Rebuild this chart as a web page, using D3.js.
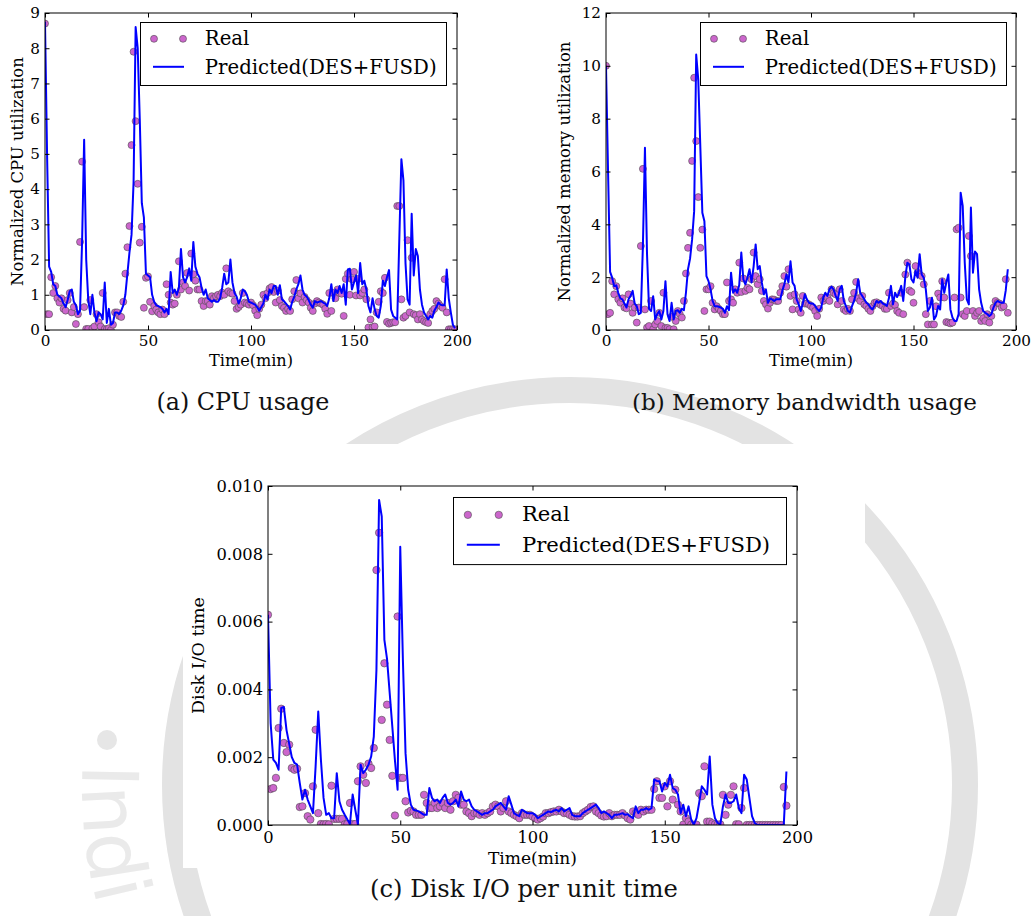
<!DOCTYPE html>
<html>
<head>
<meta charset="utf-8">
<script src="https://cdn.jsdelivr.net/npm/d3@7"></script>
<style>
  body { margin: 0; background: #fff; }
  svg { display: block; }
</style>
</head>
<body>
<svg id="fig" width="1034" height="916"></svg>
<script>
// values, one per minute (index = minute)
const cpuReal = [
  8.7, 0.45, 0.45, 1.5, 1.05, 1.25, 0.9, 0.78, 0.9, 0.6,
  0.55, 0.85, 1.05, 0.5, 0.65, 0.17, 0.45, 2.5, 4.78, 0.65,
  0.03, 0.03, 0.85, 0.05, 0.1, 0.45, 0.22, 0.1, 1.05, 0.03,
  0.02, 0.05, 0.0, 0.15, 0.5, 0.5, 0.4, 0.37, 0.8, 1.6,
  2.35, 2.95, 5.25, 7.9, 5.93, 4.15, 2.48, 2.93, 0.63, 1.48,
  1.52, 0.8, 0.53, 0.68, 0.58, 0.5, 0.45, 0.58, 0.45, 1.3,
  1.0, 0.78, 0.72, 0.75, 1.0, 1.95, 1.15, 1.35, 1.25, 1.62,
  1.12, 2.17, 1.58, 1.4, 1.15, 1.15, 0.82, 0.68, 0.82, 0.82,
  0.72, 0.96, 0.9, 0.96, 1.0, 0.96, 1.06, 1.0, 1.75, 1.1,
  1.05, 1.03, 0.82, 0.6, 0.65, 0.72, 1.05, 0.78, 0.75, 0.72,
  0.78, 0.7, 0.55, 0.42, 0.6, 0.72, 1.0, 0.9, 1.05, 1.18,
  1.22, 1.08, 0.78, 1.12, 0.85, 0.68, 0.63, 0.54, 0.6, 0.54,
  0.87, 1.1, 1.42, 0.9, 1.04, 0.78, 0.94, 0.85, 0.78, 0.63,
  0.54, 0.75, 0.82, 0.78, 0.75, 0.72, 0.6, 0.46, 1.05, 0.54,
  1.05, 0.9, 1.15, 1.05, 1.03, 0.4, 1.45, 1.6, 1.0, 1.44,
  1.65, 0.98, 1.45, 0.98, 1.05, 1.15, 0.87, 0.07, 0.3, 0.08,
  0.1, 0.5, 0.8, 1.1, 1.05, 1.48, 0.23, 0.18, 0.2, 0.22,
  0.22, 3.52, 3.52, 0.87, 0.35, 0.4, 2.55, 0.5, 2.05, 0.45,
  0.42, 0.3, 0.45, 0.3, 0.25, 0.22, 0.2, 0.45, 0.54, 0.6,
  0.82, 0.75, 0.68, 0.63, 1.44, 0.5, 0.02, 0.02, 0.02, 0.02
];
const cpuPred = [
  8.75, 5.0, 1.8, 1.65, 1.3, 1.25, 1.0, 0.95, 0.9, 0.75,
  0.65, 0.85, 1.1, 1.15, 0.8, 0.7, 0.45, 0.55, 2.5, 5.4,
  2.0, 0.85, 0.45, 1.0, 0.5, 0.25, 0.5, 0.45, 0.3, 1.35,
  0.2, 0.6, 0.15, 0.2, 0.5, 0.5, 0.45, 0.55, 0.7, 1.0,
  1.6, 2.2, 2.7, 4.2, 8.6, 8.0, 6.0, 3.6, 3.2, 1.6,
  1.55, 1.5, 1.0, 0.8, 0.7, 0.68, 0.65, 0.6, 0.5, 0.6,
  0.45, 1.65, 1.05, 1.15, 1.0, 1.2, 2.3, 1.5, 1.35, 1.5,
  1.75, 1.4, 2.5, 1.8, 1.6, 1.5, 1.2, 1.0, 1.15, 0.9,
  0.85, 0.8, 0.85, 0.8, 0.8, 0.9, 1.2, 1.6, 1.3, 1.35,
  2.0, 1.35, 1.05, 0.95, 0.75, 0.9, 1.15, 1.1, 1.0, 0.8,
  0.78, 0.75, 0.72, 0.65, 0.55, 0.65, 0.75, 1.0, 0.87, 1.15,
  1.05, 1.25, 1.25, 1.0, 1.27, 0.87, 0.82, 0.75, 0.68, 0.58,
  0.8, 0.95, 1.15, 1.3, 1.55, 1.15, 1.0, 0.95, 0.85, 0.72,
  0.63, 0.82, 0.78, 0.8, 0.82, 0.78, 0.75, 0.68, 0.9, 1.3,
  0.82, 1.15, 1.05, 1.25, 1.05, 1.3, 0.72, 1.72, 1.74, 1.15,
  1.35, 1.55, 1.05, 1.9, 1.3, 1.4, 1.15, 0.68, 0.5, 0.9,
  0.6, 0.4, 0.35, 0.68, 1.4, 1.25, 1.5, 1.7, 0.58, 0.4,
  0.35, 0.3, 2.6, 4.85, 4.25, 1.9, 0.87, 0.72, 3.3, 1.55,
  2.3, 2.1, 1.15, 0.72, 0.5, 0.4, 0.3, 0.4, 0.35, 0.55,
  0.65, 0.78, 0.72, 0.7, 0.7, 1.72, 0.9, 0.5, 0.15, 0.05
];
const memReal = [
  10.0, 0.6, 0.65, 1.85, 1.35, 1.66, 1.16, 1.03, 1.2, 0.85,
  0.82, 1.35, 1.0, 0.65, 0.85, 0.28, 0.85, 3.18, 6.1, 0.78,
  0.09, 0.15, 1.1, 0.03, 0.21, 0.34, 0.65, 0.15, 1.41, 0.08,
  0.08, 0.03, 0.5, 0.03, 0.34, 0.72, 0.6, 0.47, 1.1, 2.14,
  3.11, 3.68, 6.4, 9.55, 7.15, 5.03, 3.11, 3.8, 0.72, 1.54,
  1.54, 1.66, 1.03, 0.78, 0.9, 0.8, 0.72, 0.6, 0.6, 1.8,
  1.1, 1.16, 1.03, 1.54, 1.41, 2.55, 1.44, 1.95, 1.48, 1.6,
  1.54, 1.92, 2.93, 2.04, 1.73, 1.92, 1.48, 1.1, 0.97, 0.81,
  1.03, 1.16, 1.15, 1.1, 1.1, 1.41, 1.66, 2.04, 1.64, 2.3,
  1.29, 0.78, 1.35, 1.1, 0.78, 0.65, 1.29, 1.0, 1.0, 0.97,
  0.9, 0.85, 0.72, 0.53, 0.8, 1.23, 1.1, 1.2, 1.23, 1.1,
  1.54, 1.4, 1.35, 0.97, 1.54, 1.1, 0.78, 0.72, 0.8, 0.72,
  1.16, 1.41, 1.82, 1.2, 1.1, 1.29, 0.97, 0.91, 0.8, 0.72,
  0.9, 1.03, 1.05, 1.0, 0.95, 0.91, 0.8, 0.8, 1.41, 0.91,
  1.0, 0.95, 0.72, 0.65, 1.41, 0.6, 2.1, 2.55, 1.5, 1.44,
  1.03, 2.42, 2.17, 2.1, 2.04, 1.73, 0.6, 0.21, 1.1, 0.21,
  0.21, 0.9, 1.38, 1.23, 1.85, 1.23, 0.3, 0.28, 0.25, 0.28,
  1.23, 3.81, 3.87, 1.23, 0.6, 0.53, 0.72, 3.56, 2.8, 0.72,
  0.53, 0.65, 0.72, 0.34, 0.45, 0.34, 0.6, 0.28, 0.53, 0.85,
  1.1, 1.03, 1.0, 0.85, 0.9, 1.92, 0.65
];
const memPred = [
  10.0, 6.0, 2.2, 1.98, 1.66, 1.69, 1.4, 1.2, 1.16, 1.0,
  0.85, 1.16, 1.3, 1.48, 1.0, 0.9, 0.6, 0.65, 3.18, 6.9,
  2.9, 0.8, 0.72, 1.28, 0.4, 0.6, 0.72, 0.4, 0.72, 1.85,
  0.6, 0.34, 1.03, 0.4, 0.72, 0.75, 0.65, 0.8, 0.75, 1.41,
  2.3, 2.7, 3.43, 4.5, 10.43, 9.48, 6.96, 4.44, 4.12, 2.04,
  1.85, 1.54, 1.1, 0.9, 0.9, 0.88, 0.85, 0.8, 0.65, 0.9,
  0.75, 2.17, 1.41, 1.54, 1.41, 1.7, 2.93, 1.92, 1.73, 1.98,
  2.3, 1.8, 2.4, 3.24, 2.3, 2.42, 1.8, 1.35, 1.54, 1.03,
  1.2, 1.16, 1.1, 1.16, 1.16, 1.16, 1.48, 1.73, 2.1, 1.8,
  2.6, 1.8, 1.67, 1.16, 0.97, 0.72, 1.0, 1.35, 1.16, 1.03,
  1.0, 1.0, 0.91, 0.8, 0.72, 0.85, 1.23, 1.41, 1.29, 1.54,
  1.64, 1.54, 1.3, 1.1, 1.54, 1.67, 1.1, 0.91, 0.72, 0.66,
  0.9, 1.1, 1.41, 1.92, 1.41, 1.29, 1.16, 1.03, 0.97, 0.85,
  0.78, 0.93, 1.1, 1.03, 1.1, 1.0, 0.97, 0.91, 1.2, 1.67,
  0.97, 1.41, 1.25, 1.41, 1.67, 1.1, 2.0, 2.55, 2.48, 1.92,
  1.8, 2.24, 1.98, 2.87, 2.1, 1.98, 1.54, 0.72, 0.85, 1.22,
  0.4, 0.53, 0.91, 0.78, 1.92, 1.41, 1.8, 2.1, 0.78, 0.47,
  0.34, 0.34, 0.6, 5.2, 4.7, 2.55, 1.16, 0.97, 4.64, 2.17,
  2.97, 2.87, 1.54, 1.03, 0.72, 0.65, 0.6, 0.53, 0.6, 0.85,
  1.03, 1.1, 1.05, 1.03, 1.03, 1.5, 2.3
];
// disk I/O values in units of 0.001
const diskReal = [
  6.2, 1.06, 1.09, 1.39, 2.86, 3.43, 2.42, 2.15, 2.37, 1.68,
  1.63, 1.66, 0.53, 0.55, 0.94, 0.26, 0.16, 1.14, 2.81, 0.35,
  0.03, 0.02, 0.03, 0.02, 1.16, 0.18, 0.18, 0.18, 0.18, 0.02,
  0.03, 0.65, 0.03, 0.03, 1.29, 1.73, 1.48, 1.24, 1.81, 1.68,
  2.27, 7.52, 8.62, 3.1, 4.77, 3.55, 2.51, 1.45, 0.28, 6.15,
  1.39, 1.39, 0.7, 0.37, 0.42, 0.4, 0.3, 0.3, 0.3, 0.89,
  0.65, 0.5, 0.5, 0.65, 0.5, 0.55, 0.65, 0.5, 0.65, 0.45,
  0.7, 0.89, 0.8, 0.6, 0.6, 0.4, 0.35, 0.26, 0.35, 0.35,
  0.3, 0.35, 0.3, 0.35, 0.4, 0.55, 0.6, 0.55, 0.4, 0.5,
  0.7, 0.4, 0.35, 0.3, 0.26, 0.2, 0.35, 0.3, 0.3, 0.3,
  0.25, 0.2, 0.16, 0.2, 0.25, 0.35, 0.35, 0.38, 0.4, 0.4,
  0.45, 0.4, 0.35, 0.35, 0.3, 0.26, 0.25, 0.25, 0.26, 0.35,
  0.4, 0.45, 0.53, 0.55, 0.4, 0.35, 0.28, 0.25, 0.26, 0.35,
  0.26, 0.3, 0.3, 0.3, 0.35, 0.28, 0.2, 0.16, 0.4, 0.35,
  0.3, 0.45, 0.4, 0.45, 0.45, 0.45, 1.06, 1.29, 0.8, 0.8,
  1.14, 0.55, 1.29, 0.75, 1.04, 0.6, 0.4, 0.01, 0.2, 0.1,
  0.01, 0.01, 0.01, 0.94, 0.85, 1.73, 0.1, 0.1, 0.05, 0.02,
  0.01, 0.02, 0.89, 0.3, 0.6, 0.89, 1.14, 0.02, 0.02, 0.5,
  1.09, 0.0, 0.0, 0.0, 0.0, 0.0, 0.0, 0.0, 0.0, 0.0,
  0.0, 0.0, 0.0, 0.0, 0.0, 1.12, 0.57
];
const diskPred = [
  6.2, 3.0, 1.93, 1.83, 1.63, 3.45, 3.48, 2.8, 2.4, 2.0,
  1.83, 1.78, 1.24, 0.75, 1.04, 0.75, 0.55, 0.35, 1.73, 3.35,
  1.93, 0.8, 0.3, 0.35, 0.2, 0.2, 1.53, 0.7, 0.45, 0.3,
  0.16, 0.03, 0.9, 0.45, 0.01, 1.78, 1.53, 1.63, 1.78, 2.02,
  2.61, 4.58, 9.59, 9.1, 5.46, 4.9, 3.9, 2.9, 1.9, 1.04,
  8.21, 4.87, 2.12, 1.04, 0.6, 0.45, 0.43, 0.4, 0.35, 0.3,
  0.3, 1.09, 0.8, 0.7, 0.75, 0.65, 0.8, 0.9, 0.65, 0.6,
  0.65, 0.75, 0.55, 0.99, 0.75, 0.7, 0.75, 0.55, 0.45, 0.4,
  0.35, 0.3, 0.35, 0.35, 0.4, 0.45, 0.55, 0.6, 0.65, 0.55,
  0.45, 0.85, 0.6, 0.35, 0.3, 0.26, 0.45, 0.4, 0.35, 0.35,
  0.35, 0.3, 0.2, 0.25, 0.3, 0.35, 0.4, 0.38, 0.42, 0.45,
  0.4, 0.5, 0.4, 0.45, 0.5, 0.3, 0.26, 0.26, 0.26, 0.35,
  0.4, 0.45, 0.5, 0.55, 0.6, 0.5, 0.35, 0.4, 0.35, 0.3,
  0.2, 0.3, 0.3, 0.32, 0.35, 0.3, 0.32, 0.25, 0.2, 0.55,
  0.35, 0.45, 0.45, 0.5, 0.45, 0.5, 1.34, 1.3, 1.29, 0.99,
  1.24, 1.14, 1.48, 1.09, 1.04, 0.9, 0.35, 0.6, 0.26, 0.55,
  0.16, 0.01, 0.2, 0.65, 1.14, 1.04, 0.9, 2.02, 0.6, 0.2,
  0.06, 0.01, 0.55, 0.9, 0.65, 0.65, 0.7, 0.9, 0.5, 0.35,
  1.48, 1.34, 0.8, 0.26, 0.06, 0.0, 0.0, 0.0, 0.0, 0.0,
  0.0, 0.0, 0.0, 0.0, 0.0, 0.0, 1.58
];

const timeTicks = [0, 50, 100, 150, 200];
const cpuTicks = [0, 1, 2, 3, 4, 5, 6, 7, 8, 9];
const memTicks = [0, 2, 4, 6, 8, 10, 12];
const diskTicks = [0, 2, 4, 6, 8, 10];
const diskTickLabels = ['0.000', '0.002', '0.004', '0.006', '0.008', '0.010'];
const legendLabels = ['Real', 'Predicted(DES+FUSD)'];
const captions = ['(a) CPU usage', '(b) Memory bandwidth usage', '(c) Disk I/O per unit time'];

const SERIF = '"DejaVu Serif", serif';
const svg = d3.select('#fig');
const defs = svg.append('defs');

// scale a text's font so its length matches the width measured on the figure
function fit(sel, target) {
  const w = sel.node().getComputedTextLength();
  sel.attr('font-size', parseFloat(sel.attr('font-size')) * target / w);
  return sel;
}

// faint seal watermark behind the figure
svg.append('circle')
  .attr('cx', 570).attr('cy', 785).attr('r', 395)
  .attr('fill', 'none').attr('stroke', '#e3e3e3').attr('stroke-width', 26);
defs.append('path').attr('id', 'seal')
  .attr('d', 'M570,297 A488,488 0 0 0 570,1273 A488,488 0 0 0 570,297');
svg.append('text')
  .attr('font-family', '"DejaVu Sans", sans-serif').attr('font-size', 78).attr('fill', '#eaeaea')
  .append('textPath').attr('href', '#seal').attr('startOffset', 745).text('Indi');
svg.append('circle').attr('cx', 107).attr('cy', 740).attr('r', 10).attr('fill', '#e6e6e6');

// white paper under each sub-figure
[[0, 0, 518, 372], [543, 0, 491, 372], [183, 444, 682, 424]].forEach(r => {
  svg.append('rect').attr('x', r[0]).attr('y', r[1]).attr('width', r[2]).attr('height', r[3]).attr('fill', '#fff');
});

const panels = [
  {
    id: 'a', real: cpuReal, pred: cpuPred, yMax: 9, yTicks: cpuTicks, yFmt: d => d,
    left: 45, right: 457, top: 13, bottom: 330, r: 3.5, tickFs: 15.2, xPad: 5,
    yLabel: 'Normalized CPU utilization', yLabelX: 23, yLabelW: 229,
    xLabelY: 366, xLabelW: 84, labelFs: 15,
    legend: { x: 140.5, y: 22.5, w: 306, s: 1, tw: 232 }
  },
  {
    id: 'b', real: memReal, pred: memPred, yMax: 12, yTicks: memTicks, yFmt: d => d,
    left: 606, right: 1016, top: 13, bottom: 330, r: 3.5, tickFs: 15.2, xPad: 5,
    yLabel: 'Normalized memory utilization', yLabelX: 570, yLabelW: 260,
    xLabelY: 366, xLabelW: 84, labelFs: 15,
    legend: { x: 700.5, y: 22.5, w: 306, s: 1, tw: 232 }
  },
  {
    id: 'c', real: diskReal, pred: diskPred, yMax: 10, yTicks: diskTicks, yFmt: (d, i) => diskTickLabels[i],
    left: 268, right: 797, top: 486, bottom: 825, r: 3.7, tickFs: 16.3, xPad: 6,
    yLabel: 'Disk I/O time', yLabelX: 204, yLabelW: 117,
    xLabelY: 864, xLabelW: 89, labelFs: 16,
    legend: { x: 453.5, y: 497.5, w: 333, s: 1.065, tw: 248 }
  }
];

function drawPanel(p) {
  const x = d3.scaleLinear().domain([0, 200]).range([p.left, p.right]);
  const y = d3.scaleLinear().domain([0, p.yMax]).range([p.bottom, p.top]);
  const g = svg.append('g');

  defs.append('clipPath').attr('id', 'clip-' + p.id).append('rect')
    .attr('x', p.left).attr('y', p.top)
    .attr('width', p.right - p.left).attr('height', p.bottom - p.top);
  const plot = g.append('g').attr('clip-path', `url(#clip-${p.id})`);

  plot.selectAll('circle').data(p.real).join('circle')
    .attr('cx', (d, i) => x(i)).attr('cy', d => y(d)).attr('r', p.r)
    .attr('fill', '#cc66cc').attr('stroke', '#4d4d4d').attr('stroke-width', 0.6);

  plot.append('path').datum(p.pred)
    .attr('d', d3.line().x((d, i) => x(i)).y(d => y(d)))
    .attr('fill', 'none').attr('stroke', '#0000ff')
    .attr('stroke-width', 2).attr('stroke-linejoin', 'round');

  const tick = 4.5;
  const styleAxis = sel => {
    sel.select('.domain').remove();
    sel.selectAll('.tick line').attr('stroke', '#000');
    sel.selectAll('.tick text')
      .attr('font-family', SERIF).attr('font-size', p.tickFs).attr('fill', '#000');
  };
  g.append('g').attr('transform', `translate(0,${p.bottom})`)
    .call(d3.axisBottom(x).tickValues(timeTicks).tickSize(-tick).tickPadding(p.xPad))
    .call(styleAxis);
  g.append('g').attr('transform', `translate(0,${p.top})`)
    .call(d3.axisTop(x).tickValues(timeTicks).tickSize(-tick).tickFormat(''))
    .call(styleAxis);
  g.append('g').attr('transform', `translate(${p.left},0)`)
    .call(d3.axisLeft(y).tickValues(p.yTicks).tickSize(-tick).tickPadding(5).tickFormat(p.yFmt))
    .call(styleAxis);
  g.append('g').attr('transform', `translate(${p.right},0)`)
    .call(d3.axisRight(y).tickValues(p.yTicks).tickSize(-tick).tickFormat(''))
    .call(styleAxis);

  g.append('rect')
    .attr('x', p.left).attr('y', p.top)
    .attr('width', p.right - p.left).attr('height', p.bottom - p.top)
    .attr('fill', 'none').attr('stroke', '#000').attr('stroke-width', 1);

  // axis labels
  fit(g.append('text')
    .attr('x', (p.left + p.right) / 2).attr('y', p.xLabelY)
    .attr('text-anchor', 'middle').attr('font-family', SERIF).attr('font-size', p.labelFs)
    .text('Time(min)'), p.xLabelW);
  fit(g.append('text')
    .attr('transform', `translate(${p.yLabelX},${(p.top + p.bottom) / 2}) rotate(-90)`)
    .attr('text-anchor', 'middle').attr('font-family', SERIF).attr('font-size', p.labelFs)
    .text(p.yLabel), p.yLabelW);

  // legend
  const L = p.legend, s = L.s;
  const lg = g.append('g');
  lg.append('rect')
    .attr('x', L.x).attr('y', L.y).attr('width', L.w).attr('height', 63 * s)
    .attr('fill', '#fff').attr('stroke', '#000').attr('stroke-width', 1);
  lg.selectAll('circle').data([13.5, 42.5]).join('circle')
    .attr('cx', d => L.x + d * s).attr('cy', L.y + 16.3 * s).attr('r', p.r)
    .attr('fill', '#cc66cc').attr('stroke', '#4d4d4d').attr('stroke-width', 0.6);
  lg.append('line')
    .attr('x1', L.x + 12.5 * s).attr('x2', L.x + 43.5 * s)
    .attr('y1', L.y + 44.3 * s).attr('y2', L.y + 44.3 * s)
    .attr('stroke', '#0000ff').attr('stroke-width', 2);
  const t2 = lg.append('text')
    .attr('x', L.x + 64.3 * s).attr('y', L.y + 51.3 * s)
    .attr('font-family', SERIF).attr('font-size', 19.5 * s).text(legendLabels[1]);
  fit(t2, L.tw);
  lg.append('text')
    .attr('x', L.x + 64.3 * s).attr('y', L.y + 22.3 * s)
    .attr('font-family', SERIF).attr('font-size', t2.attr('font-size')).text(legendLabels[0]);
}

panels.forEach(drawPanel);

// sub-figure captions
[[156.5, 409.5, 173], [632, 409.5, 345], [370, 897, 308]].forEach((c, i) => {
  fit(svg.append('text')
    .attr('x', c[0]).attr('y', c[1])
    .attr('font-family', SERIF).attr('font-size', 22).attr('fill', '#111')
    .text(captions[i]), c[2]);
});
</script>
</body>
</html>
